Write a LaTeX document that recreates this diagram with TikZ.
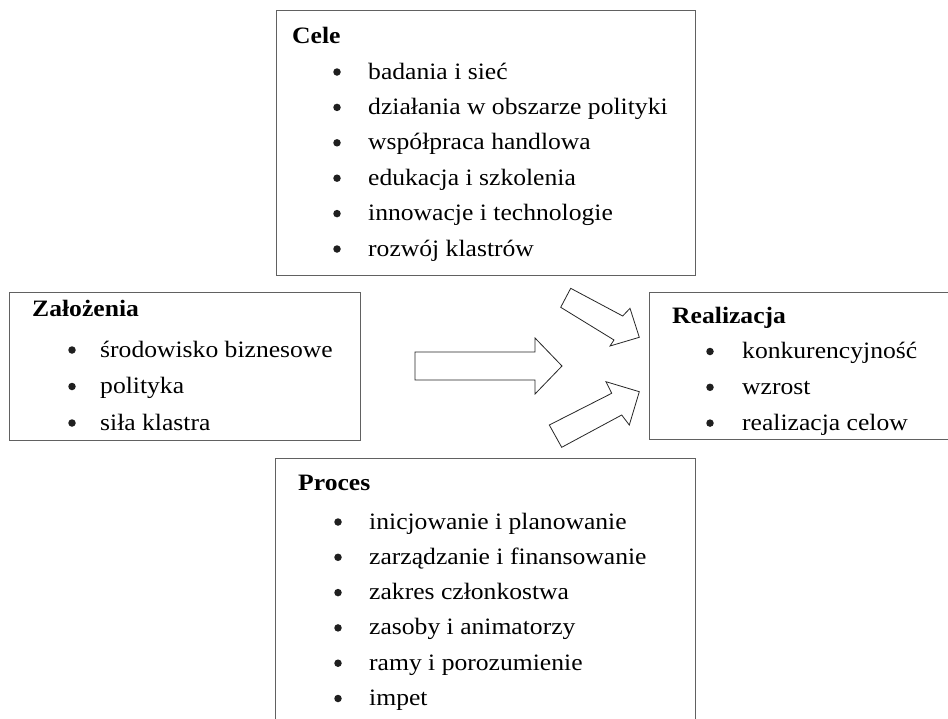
\documentclass[tikz,border=0pt]{standalone}
\usepackage{fontspec}
\setmainfont[FakeStretch=1.09]{Liberation Serif}
\begin{document}
\begin{tikzpicture}[x=1pt,y=-1pt,
  boxframe/.style={draw=black!62, line width=1pt, inner sep=0pt, anchor=north west},
  txt/.style={anchor=base west, inner sep=0pt, font=\fontsize{23.5}{27}\selectfont},
  ttl/.style={anchor=base west, inner sep=0pt, font=\fontsize{23.5}{27}\selectfont\bfseries},
  bul/.style={circle, fill=black!88, inner sep=0pt, minimum size=7.5pt},
  blockarrow/.style={draw=black!85, line width=0.8pt, line join=miter, fill=white}]
\useasboundingbox (0,0) rectangle (948,718);
\clip (0,0) rectangle (948,718);
\fill[white] (0,0) rectangle (948,718);

% boxes
\node[boxframe, minimum width=419pt, minimum height=265pt] (cele) at (276,10) {};
\node[boxframe, minimum width=351pt, minimum height=148pt] (zal) at (9,292) {};
\node[boxframe, minimum width=400pt, minimum height=147pt] (real) at (649,292) {};
\node[boxframe, minimum width=420pt, minimum height=300pt] (proc) at (275,458) {};

% Cele
\node[ttl] (celeT) at (292,43) {Cele};
\foreach \t [count=\i] in {badania i sieć, działania w obszarze polityki, współpraca handlowa, edukacja i szkolenia, innowacje i technologie, rozwój klastrów}{
  \node[bul] (celeB\i) at (337,{72+35.4*(\i-1)}) {};
  \node[txt] (celeI\i) at (368,{79+35.4*(\i-1)}) {\t};
}

% Zalozenia
\node[ttl] (zalT) at (32,316) {Założenia};
\foreach \t [count=\i] in {środowisko biznesowe, polityka, siła klastra}{
  \node[bul] (zalB\i) at (72,{350+36.5*(\i-1)}) {};
  \node[txt] (zalI\i) at (100,{357+36.5*(\i-1)}) {\t};
}

% Realizacja
\node[ttl] (realT) at (672,323) {Realizacja};
\foreach \t [count=\i] in {konkurencyjność, wzrost, realizacja celow}{
  \node[bul] (realB\i) at (710,{351.5+35.8*(\i-1)}) {};
  \node[txt] (realI\i) at (742,{358.5+35.8*(\i-1)}) {\t};
}

% Proces
\node[ttl] (procT) at (298,490) {Proces};
\foreach \t [count=\i] in {inicjowanie i planowanie, zarządzanie i finansowanie, zakres członkostwa, zasoby i animatorzy, ramy i porozumienie, impet}{
  \node[bul] (procB\i) at (338,{522+35.3*(\i-1)}) {};
  \node[txt] (procI\i) at (369,{529+35.3*(\i-1)}) {\t};
}

% block arrows
\draw[blockarrow] (415,352) -- (535,352) -- (535,338) -- (562,366) -- (535,394) -- (535,380) -- (415,380) -- cycle;
\draw[blockarrow] (570.7,288.3) -- (622.7,316) -- (630,308.3) -- (639.3,337.3) -- (610,346) -- (614,340) -- (560.7,307.3) -- cycle;
\draw[blockarrow] (549.3,425) -- (611.7,393.3) -- (606,381.7) -- (639.3,391.7) -- (629.3,425) -- (621.7,415) -- (561.7,447.3) -- cycle;
\end{tikzpicture}
\end{document}
